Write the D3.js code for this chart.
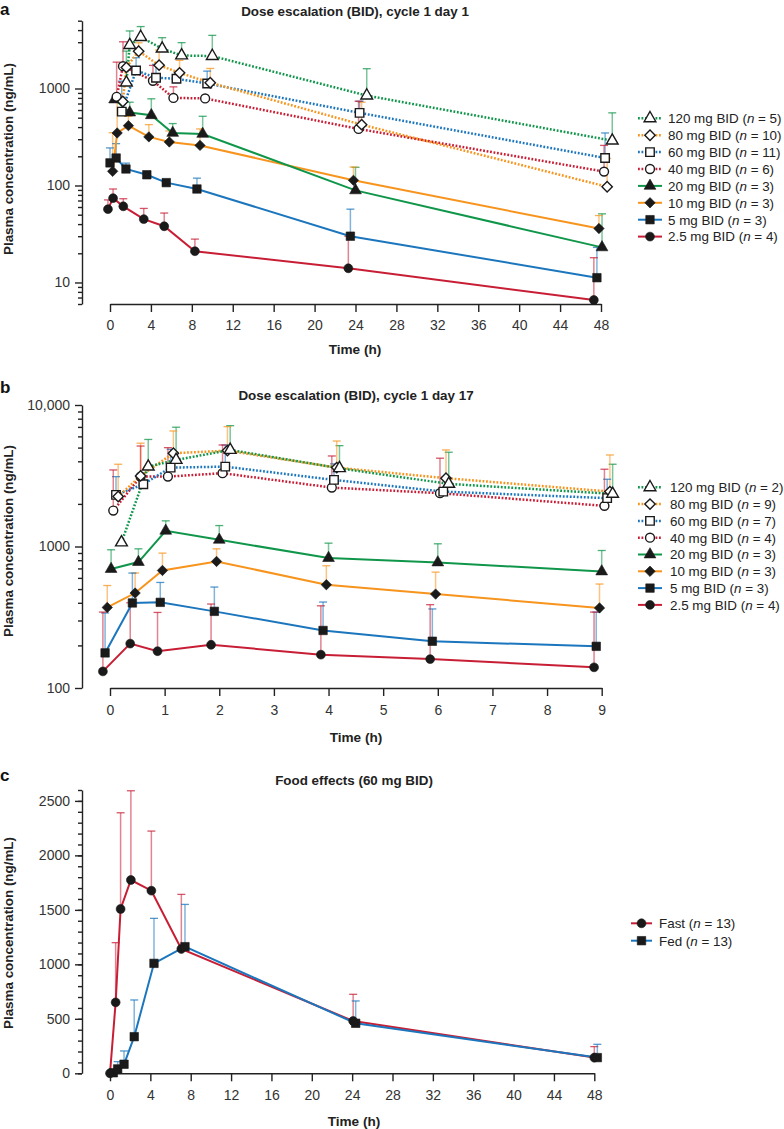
<!DOCTYPE html>
<html><head><meta charset="utf-8">
<script src="https://cdn.jsdelivr.net/npm/d3@7"></script>
<style>body{margin:0;background:#fff}svg{display:block}</style>
</head><body>
<script>
// ---------------- DATA ----------------
// Each point: [time (h), mean concentration (ng/mL), upper error bar (ng/mL) or null]
// Panel a: cycle 1 day 1
const a120 = [[1.6,1150,2430],[1.93,2800,3920],[3.0,3390,4350],[5.1,2575,3340],[7.0,2190,2970],[10.0,2160,3530],[25.1,846,1600],[49.1,290,561]];
const a80  = [[1.25,735,null],[1.6,1650,null],[2.8,2420,2960],[4.8,1740,2490],[6.8,1450,1950],[9.8,1145,1610],[24.6,424,722],[48.6,97,190]];
const a60  = [[1.15,577,1190],[2.55,1535,2077],[4.5,1290,1771],[6.5,1260,null],[9.5,1126,1511],[24.4,561,739],[48.4,192,348]];
const a40  = [[0.65,820,1870],[1.27,1700,3030],[4.2,1200,1730],[6.2,800,1040],[9.3,790,null],[24.3,383,739],[48.3,139,259]];
const a20  = [[0.45,770,null],[1.93,565,722],[4.04,530,783],[6.13,348,435],[9.06,340,517],[24.0,89,154],[48.1,23,51]];
const a10  = [[0.26,140,350],[0.7,348,830],[1.8,414,517],[3.8,317,424],[5.8,281,365],[8.8,259,383],[23.8,113,155],[47.8,36,49]];
const a5   = [[0.0,171,244],[0.6,192,270],[1.56,148,170],[3.6,129,null],[5.5,107,null],[8.5,92,119],[23.5,30,57],[47.6,11.2,23]];
const a2_5 = [[-0.2,57,71],[0.3,74,92],[1.3,61,73],[3.3,45,58],[5.3,38,52],[8.3,21,28],[23.3,14,30],[47.3,6.6,18]];
const nA = [5,10,11,6,3,3,3,4];

// Panel b: cycle 1 day 17
const b120 = [[0.21,1067,null],[0.7,3668,5708],[1.21,4090,6966],[2.2,4812,7144],[4.2,3574,5161],[6.2,2770,4637],[9.2,2355,3814]];
const b80  = [[0.15,2254,3813],[0.56,3154,5371],[1.16,4562,6553],[2.15,4760,7034],[4.15,3610,5563],[6.15,3039,4812],[9.15,2444,4435]];
const b60  = [[0.11,2317,3117],[0.61,2756,null],[1.11,3610,4865],[2.11,3668,5218],[4.1,2955,3836],[6.1,2444,null],[9.1,2196,2987]];
const b40  = [[0.06,1795,3475],[0.56,3119,5130],[1.06,3119,4994],[2.06,3297,5217],[4.06,2608,4363],[6.04,2381,4207],[9.05,1937,3516]];
const b20  = [[0.02,693,948],[0.52,776,963],[1.02,1291,1518],[2.0,1115,1406],[4.0,828,1056],[6.0,771,1045],[9.0,666,937]];
const b10  = [[-0.05,371,530],[0.46,469,650],[0.96,677,898],[1.95,784,963],[3.96,537,731],[5.96,461,659],[8.96,368,543]];
const b5   = [[-0.09,177,339],[0.41,399,649],[0.92,403,557],[1.91,348,517],[3.9,255,405],[5.9,214,362],[8.9,197,344]];
const b2_5 = [[-0.13,131,344],[0.37,206,400],[0.87,182,342],[1.85,202,392],[3.86,172,381],[5.86,160,388],[8.86,140,344]];
const nB = [2,9,7,4,3,3,3,4];

// Panel c: food effects (60 mg BID)
const cFast = [[0,0,null],[0.56,651,1199],[1.05,1508,2391],[2.07,1774,2593],[4.1,1676,2223],[7.07,1141,1642],[24.1,480,725],[48.0,144,245]];
const cFed  = [[0.33,5,null],[0.76,40,107],[1.39,83,205],[2.4,336,673],[4.36,1009,1422],[7.43,1162,1550],[24.35,459,664],[48.3,144,266]];
const nC = [13,13];

const doseNames = ["120 mg BID","80 mg BID","60 mg BID","40 mg BID","20 mg BID","10 mg BID","5 mg BID","2.5 mg BID"];
const foodNames = ["Fast","Fed"];

const ticksA_major = [10,100,1000];
const ticksA_minor = [6,7,8,9,20,30,40,50,60,70,80,90,200,300,400,500,600,700,800,900,2000,3000,4000,5000];
const ticksB_major = [100,1000,10000];
const ticksB_minor = [200,300,400,500,600,700,800,900,2000,3000,4000,5000,6000,7000,8000,9000];
const ticksC_major = [0,500,1000,1500,2000,2500];
const ticksC_minor = d3.range(0,2601,100);
const ticksX48 = d3.range(0,49,4);
const ticksX9 = d3.range(0,10,1);

// ---------------- STYLE ----------------
const FONT = "'Liberation Sans', Arial, Helvetica, sans-serif";
const C = {red:"#c81e35", blue:"#1b76bd", green:"#10964a", orange:"#f7941d"};
const doseStyles = [
  {color:C.green, dotted:true, shape:"triangle", open:true},
  {color:C.orange, dotted:true, shape:"diamond", open:true},
  {color:C.blue, dotted:true, shape:"square", open:true},
  {color:C.red, dotted:true, shape:"circle", open:true},
  {color:C.green, dotted:false, shape:"triangle", open:false},
  {color:C.orange, dotted:false, shape:"diamond", open:false},
  {color:C.blue, dotted:false, shape:"square", open:false},
  {color:C.red, dotted:false, shape:"circle", open:false}
];
const foodStyles = [
  {color:C.red, dotted:false, shape:"circle", open:false},
  {color:C.blue, dotted:false, shape:"square", open:false}
];

const W = 784, H = 1129;
const svg = d3.select("body").append("svg").attr("width", W).attr("height", H)
  .style("font-family", FONT);

const symSize = {circle:62, square:72, triangle:60, diamond:54};
function symPath(shape){
  const t = {circle:d3.symbolCircle, square:d3.symbolSquare, triangle:d3.symbolTriangle, diamond:d3.symbolSquare}[shape];
  return d3.symbol(t, symSize[shape])();
}
function drawMarker(g, x, y, st){
  const p = g.append("path").attr("d", symPath(st.shape))
    .attr("transform", `translate(${x},${y})` + (st.shape==="diamond" ? " rotate(45)" : ""));
  if (st.open) p.attr("fill","#fff").attr("stroke","#1a1a1a").attr("stroke-width",1.4);
  else p.attr("fill","#1a1a1a").attr("stroke","#1a1a1a").attr("stroke-width",0.6);
}
function styleLine(p, st){
  p.attr("fill","none").attr("stroke", st.color);
  if (st.dotted) p.attr("stroke-width",2.5).attr("stroke-dasharray","1.8,1.7");
  else p.attr("stroke-width",2);
}

function drawPanel(o){
  const g = svg.append("g");
  const x = o.x, y = o.y;
  // y axis
  const ya = g.append("g").attr("transform",`translate(${o.axisX},0)`)
    .call(d3.axisLeft(y).tickValues(o.yMajor).tickFormat(o.yFmt).tickSize(7).tickSizeOuter(0).tickPadding(5));
  const ym = g.append("g").attr("transform",`translate(${o.axisX},0)`)
    .call(d3.axisLeft(y).tickValues(o.yMinor).tickFormat("").tickSize(4).tickSizeOuter(0));
  ym.select(".domain").remove();
  // x axis
  const xa = g.append("g").attr("transform",`translate(0,${o.axisY})`)
    .call(d3.axisBottom(x).tickValues(o.xTicks).tickFormat(d3.format("d")).tickSize(8).tickSizeOuter(0).tickPadding(o.xPad));
  [ya,ym,xa].forEach(a=>{
    a.selectAll("path,line").attr("stroke","#222").attr("stroke-width",1.4);
    a.selectAll("text").attr("fill","#333").style("font-size","14px").style("font-family",FONT);
  });
  // titles
  g.append("text").attr("x",o.titleX).attr("y",o.titleY).attr("text-anchor","middle")
    .style("font-weight","bold").style("font-size","13.4px").attr("fill","#222").text(o.title);
  g.append("text").attr("x",o.titleX).attr("y",o.xLabelY).attr("text-anchor","middle")
    .style("font-weight","bold").style("font-size","13.6px").attr("fill","#222").text("Time (h)");
  g.append("text").attr("transform",`translate(13,${o.yLabelY}) rotate(-90)`).attr("text-anchor","middle")
    .style("font-weight","bold").style("font-size","13.4px").attr("fill","#222").text("Plasma concentration (ng/mL)");
  g.append("text").attr("x",0).attr("y",o.letterY).style("font-weight","bold").style("font-size","17px")
    .attr("fill","#111").text(o.letter);

  // error bars
  const eb = g.append("g");
  o.series.forEach((s,i)=>{
    const st = o.styles[i];
    s.forEach(d=>{
      if (d[2]==null) return;
      const px = x(d[0]), py = y(d[1]), pu = y(d[2]);
      eb.append("line").attr("x1",px).attr("x2",px).attr("y1",py).attr("y2",pu)
        .attr("stroke",st.color).attr("stroke-opacity",0.55).attr("stroke-width",1.5);
      eb.append("line").attr("x1",px-4).attr("x2",px+4).attr("y1",pu).attr("y2",pu)
        .attr("stroke",st.color).attr("stroke-opacity",0.75).attr("stroke-width",1.3);
    });
  });
  // draw order
  const idx = d3.range(o.series.length);
  if (!o.forward) idx.reverse();
  // lines
  const line = d3.line().x(d=>x(d[0])).y(d=>y(d[1]));
  idx.forEach(i=>styleLine(g.append("path").attr("d", line(o.series[i])), o.styles[i]));
  // markers
  const mk = g.append("g");
  idx.forEach(i=>o.series[i].forEach(d=>drawMarker(mk, x(d[0]), y(d[1]), o.styles[i])));
  // legend
  const lg = g.append("g");
  o.names.forEach((nm,i)=>{
    const cy = o.legY + i*o.legStep, st = o.styles[i];
    styleLine(lg.append("path").attr("d",`M${o.legX0},${cy}H${o.legX1}`), st);
    drawMarker(lg, (o.legX0+o.legX1)/2, cy, st);
    const t = lg.append("text").attr("x",o.legTX).attr("y",cy+4.8).style("font-size","13.4px").attr("fill","#222");
    t.append("tspan").text(nm + " (");
    t.append("tspan").style("font-style","italic").text("n");
    t.append("tspan").text(" = " + o.ns[i] + ")");
  });
}

const fmtComma = d3.format(",");

drawPanel({
  letter:"a", letterY:15, title:"Dose escalation (BID), cycle 1 day 1", titleX:355, titleY:16,
  x: d3.scaleLinear().domain([0,48]).range([110,601]),
  y: d3.scaleLog().domain([6,5000]).range([304,20.7]),
  axisX:82, axisY:304, xTicks:ticksX48, xPad:8.5, xLabelY:354, yLabelY:159,
  yMajor:ticksA_major, yMinor:ticksA_minor, yFmt:d3.format("d"),
  series:[a120,a80,a60,a40,a20,a10,a5,a2_5], styles:doseStyles, names:doseNames, ns:nA,
  legX0:638, legX1:662, legTX:668, legY:118.3, legStep:16.9
});

drawPanel({
  letter:"b", letterY:393, title:"Dose escalation (BID), cycle 1 day 17", titleX:356, titleY:400,
  x: d3.scaleLinear().domain([0,9]).range([110,601.7]),
  y: d3.scaleLog().domain([100,10000]).range([688,405]),
  axisX:82, axisY:688, xTicks:ticksX9, xPad:9.5, xLabelY:742, yLabelY:541,
  yMajor:ticksB_major, yMinor:ticksB_minor, yFmt:d=>fmtComma(d).replace(/^1,000$/,"1000"),
  series:[b120,b80,b60,b40,b20,b10,b5,b2_5], styles:doseStyles, names:doseNames, ns:nB,
  legX0:638, legX1:662, legTX:670, legY:487.3, legStep:16.8
});

drawPanel({
  letter:"c", letterY:781, title:"Food effects (60 mg BID)", titleX:354, titleY:785,
  x: d3.scaleLinear().domain([0,48]).range([110,594.3]),
  y: d3.scaleLinear().domain([0,2600]).range([1073.3,790]),
  axisX:82, axisY:1073.3, xTicks:ticksX48, xPad:9, xLabelY:1126, yLabelY:933,
  yMajor:ticksC_major, yMinor:ticksC_minor, yFmt:d3.format("d"), forward:true,
  series:[cFast,cFed], styles:foodStyles, names:foodNames, ns:nC,
  legX0:631, legX1:652, legTX:659, legY:923.3, legStep:17.4
});
</script>
</body></html>
